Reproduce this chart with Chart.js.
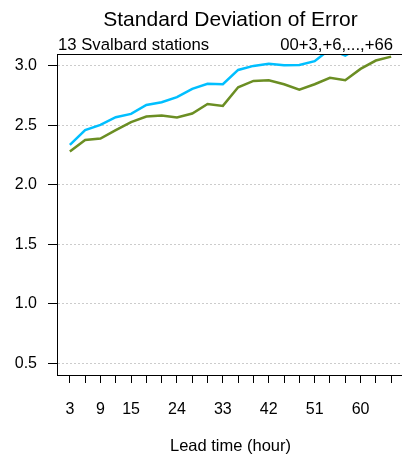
<!DOCTYPE html>
<html>
<head>
<meta charset="utf-8">
<script src="https://cdn.jsdelivr.net/npm/chart.js@4/dist/chart.umd.min.js"></script>
<style>
  html, body { margin: 0; padding: 0; background: #fff; overflow: hidden; }
  #wrap { width: 420px; height: 460px; }
</style>
</head>
<body>
<div id="wrap"><canvas id="sdChart" width="420" height="460"></canvas></div>
<script>
/* ----- dati ----- */
const leadTimes = [3, 6, 9, 12, 15, 18, 21, 24, 27, 30, 33, 36, 39, 42, 45, 48, 51, 54, 57, 60, 63, 66];
const shownLabels = [3, 9, 15, 24, 33, 42, 51, 60];
const yTicks = [0.5, 1.0, 1.5, 2.0, 2.5, 3.0];
const blueSeries = [2.336, 2.46, 2.504, 2.569, 2.597, 2.672, 2.695, 2.737, 2.807, 2.849, 2.846, 2.966, 3.0, 3.017, 3.006, 3.008, 3.04, 3.14, 3.087, 3.16, 3.2, 3.22];
const greenSeries = [2.28, 2.378, 2.39, 2.46, 2.527, 2.574, 2.583, 2.566, 2.6, 2.68, 2.664, 2.82, 2.874, 2.88, 2.846, 2.8, 2.846, 2.9, 2.88, 2.975, 3.045, 3.078];

const FONT = "'Liberation Sans', Arial, sans-serif";

/* ----- testi e bordo superiore ----- */
const boxAndText = {
  id: "boxAndText",
  afterDraw(chart) {
    const { ctx, chartArea } = chart;
    ctx.save();
    ctx.strokeStyle = "#000";
    ctx.lineWidth = 1;
    ctx.beginPath();
    ctx.moveTo(chartArea.left, chartArea.top + 0.5);
    ctx.lineTo(chartArea.right, chartArea.top + 0.5);
    ctx.stroke();

    ctx.fillStyle = "#000";
    ctx.textBaseline = "alphabetic";
    ctx.font = "21px " + FONT;
    ctx.textAlign = "center";
    ctx.fillText("Standard Deviation of Error", (chartArea.left + chartArea.right) / 2, 26);

    ctx.font = "16.7px " + FONT;
    ctx.textAlign = "left";
    ctx.fillText("13 Svalbard stations", 58, 50);
    ctx.textAlign = "right";
    ctx.fillText("00+3,+6,...,+66", 393, 50);

    ctx.font = "16.5px " + FONT;
    ctx.textAlign = "center";
    ctx.fillText("Lead time (hour)", (chartArea.left + chartArea.right) / 2, 451);
    ctx.restore();
  },
};

let sdChart = new Chart("sdChart", {
  type: "line",
  data: {
    datasets: [
      {
        label: "blue",
        data: leadTimes.map((h, i) => ({ x: h, y: blueSeries[i] })),
        borderColor: "#00BFFF",
        borderWidth: 2.5,
        pointRadius: 0,
        tension: 0,
      },
      {
        label: "green",
        data: leadTimes.map((h, i) => ({ x: h, y: greenSeries[i] })),
        borderColor: "#6B8E23",
        borderWidth: 2.5,
        pointRadius: 0,
        tension: 0,
      },
    ],
  },
  options: {
    responsive: false,
    animation: false,
    layout: { padding: { top: 54, right: 16, left: 0, bottom: 0 } },
    plugins: {
      legend: { display: false },
      title: { display: false },
      tooltip: { enabled: false },
    },
    scales: {
      x: {
        type: "linear",
        min: 0.48,
        max: 68.52,
        afterBuildTicks: (scale) => {
          scale.ticks = leadTimes.map((v) => ({ value: v }));
        },
        afterFit: (scale) => {
          scale.height = 85;
          scale.paddingLeft = 0;
          scale.paddingRight = 0;
        },
        grid: {
          drawOnChartArea: false,
          drawTicks: true,
          tickLength: 8,
          tickColor: "#000",
          color: "#000",
        },
        border: { display: true, color: "#000", width: 1 },
        ticks: {
          autoSkip: false,
          maxRotation: 0,
          padding: 17,
          color: "#000",
          font: { family: FONT, size: 16 },
          callback: (v) => (shownLabels.includes(v) ? String(v) : ""),
        },
      },
      y: {
        min: 0.403,
        max: 3.1,
        afterBuildTicks: (scale) => {
          scale.ticks = yTicks.map((v) => ({ value: v }));
        },
        afterFit: (scale) => {
          scale.width = 57;
        },
        grid: {
          color: "#cccccc",
          tickColor: "#000",
          tickBorderDash: [],
          tickLength: 9,
        },
        border: { display: true, color: "#000", width: 1, dash: [2, 2] },
        ticks: {
          padding: 11,
          color: "#000",
          font: { family: FONT, size: 16 },
          callback: (v) => v.toFixed(1),
        },
      },
    },
  },
  plugins: [boxAndText],
});
</script>
</body>
</html>
